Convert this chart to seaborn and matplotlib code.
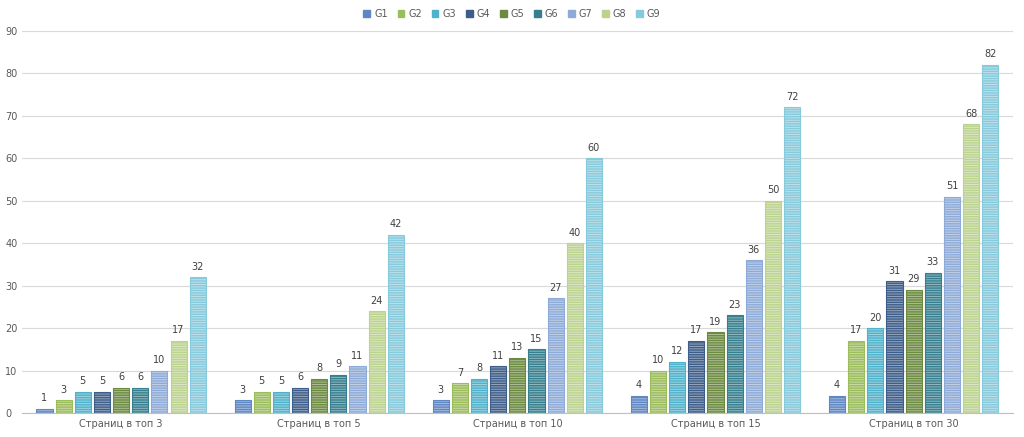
import numpy as np
import pandas as pd
import seaborn as sns
import matplotlib.pyplot as plt
from matplotlib.patches import Rectangle, Patch

categories = ["Страниц в топ 3", "Страниц в топ 5", "Страниц в топ 10",
              "Страниц в топ 15", "Страниц в топ 30"]
groups = ["G1", "G2", "G3", "G4", "G5", "G6", "G7", "G8", "G9"]

g1 = [1, 3, 3, 4, 4]
g2 = [3, 5, 7, 10, 17]
g3 = [5, 5, 8, 12, 20]
g4 = [5, 6, 11, 17, 31]
g5 = [6, 8, 13, 19, 29]
g6 = [6, 9, 15, 23, 33]
g7 = [10, 11, 27, 36, 51]
g8 = [17, 24, 40, 50, 68]
g9 = [32, 42, 60, 72, 82]
series = [g1, g2, g3, g4, g5, g6, g7, g8, g9]

colors = ["#5f87c2", "#9cbd5c", "#4fb2cb", "#3e5e8a", "#6c8a40",
          "#367f8e", "#8eabd8", "#bcd38f", "#86cadc"]

rows = []
for g, vals in zip(groups, series):
    for c, v in zip(categories, vals):
        rows.append({"cat": c, "group": g, "value": v})
df = pd.DataFrame(rows)

sns.set_style("white")
plt.rcParams['font.family'] = ['DejaVu Sans']
plt.rcParams['hatch.linewidth'] = 0.7

fig = plt.figure(figsize=(10.24, 4.37), dpi=100)
ax = fig.add_axes([0.0215, 0.055, 0.9675, 0.874])

sns.barplot(data=df, x="cat", y="value", hue="group", order=categories,
            hue_order=groups, palette=colors, width=0.87, gap=0.16,
            saturation=1, legend=False, ax=ax, zorder=2)

# stripes (white hatch) + darker outline built from the bar geometry
for i, cont in enumerate(ax.containers):
    for bar in cont:
        bar.set_hatch("-------")
        bar.set_edgecolor((1, 1, 1, 0.45))
        bar.set_linewidth(0)
        x, y = bar.get_xy()
        ax.add_patch(Rectangle((x, y), bar.get_width(), bar.get_height(),
                               fill=False, edgecolor=colors[i], lw=0.8,
                               zorder=3))
    ax.bar_label(cont, padding=4, fontsize=7, color="#404040")

ax.set_ylim(0, 90)
ax.set_yticks(range(0, 91, 10))
ax.set_xlim(-0.5, 4.5)
ax.yaxis.grid(True, color="#d9d9d9", lw=0.8, zorder=0)
ax.set_axisbelow(True)
for s in ["top", "right", "left"]:
    ax.spines[s].set_visible(False)
ax.spines["bottom"].set_color("#bfbfbf")
ax.tick_params(axis="both", length=0, labelsize=7, colors="#595959", pad=4)
for lbl in ax.get_yticklabels():
    lbl.set_horizontalalignment("left")
ax.yaxis.set_tick_params(pad=12)
ax.set_xlabel("")
ax.set_ylabel("")

handles = [Patch(facecolor=c, edgecolor=c) for c in colors]
fig.legend(handles, groups, loc="upper center", bbox_to_anchor=(0.5, 1.0),
           ncol=9, frameon=False, fontsize=7, handlelength=0.7,
           handleheight=0.7, handletextpad=0.4, columnspacing=1.0,
           labelcolor="#595959")

fig.savefig("out.png", dpi=100)
